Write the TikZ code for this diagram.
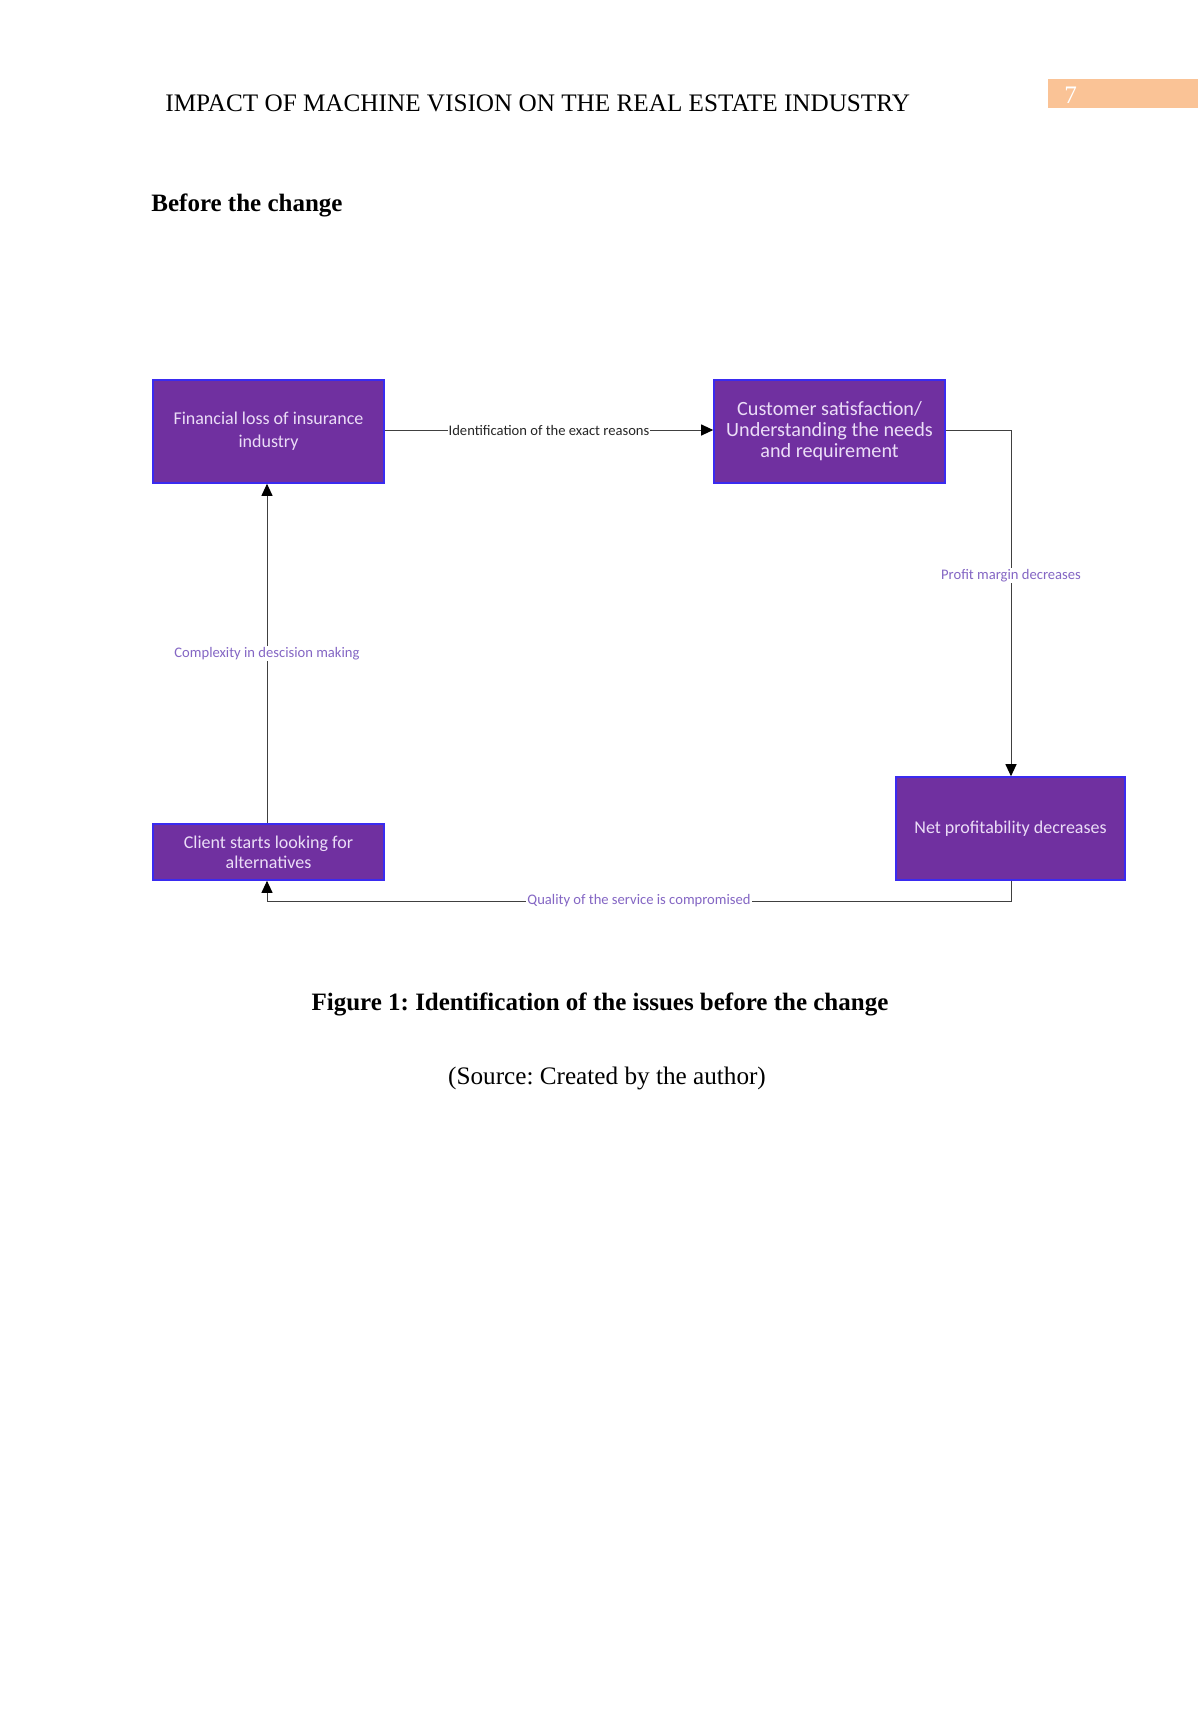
\documentclass[tikz,border=0pt]{standalone}
\usepackage{fontspec}
\setmainfont{Liberation Serif}
\newfontfamily\boxfont{Carlito}
\usetikzlibrary{arrows.meta}
\definecolor{boxfill}{HTML}{7030A0}
\definecolor{boxedge}{HTML}{3A2BF0}
\definecolor{boxtext}{HTML}{EBDDF7}
\definecolor{lblpurple}{HTML}{8466C4}
\definecolor{pagenum}{HTML}{FAC396}
\definecolor{conn}{HTML}{404040}
\tikzset{
  procbox/.style={draw=boxedge, line width=0.8pt, fill=boxfill, text=boxtext, align=center, inner sep=2pt,
    font=\boxfont\fontsize{9}{11.5}\selectfont},
  link/.style={draw=conn, line width=0.5pt, -{Triangle[length=6pt,width=5.5pt,color=black]}},
  lbl/.style={fill=white, inner sep=0.5pt, text=lblpurple, font=\boxfont\fontsize{7.3}{8}\selectfont},
  serifhead/.style={inner sep=0pt, font=\fontsize{12.6}{14}\selectfont}
}
\begin{document}
\frenchspacing
\begin{tikzpicture}[x=0.5pt,y=-0.5pt]
\useasboundingbox (0,0) rectangle (1199,1725);
\fill[white] (0,0) rectangle (1199,1725);
% header
\node[serifhead, anchor=base west] (head) at (165,111) {IMPACT OF MACHINE VISION ON THE REAL ESTATE INDUSTRY};
\fill[pagenum] (1048,79) rectangle (1198,108);
\node[serifhead, anchor=base west, text=white] (pnum) at (1064,103) {7};
\node[serifhead, anchor=base west, font=\bfseries\fontsize{12.5}{14}\selectfont] (before) at (151,211) {Before the change};
% boxes
\node[procbox, minimum width=115.5pt, minimum height=51.5pt] (fin) at (268.5,431.5) {Financial loss of insurance\\industry};
\node[procbox, minimum width=115.5pt, minimum height=51.5pt, font=\boxfont\fontsize{10.1}{10.5}\selectfont] (cust) at (829.5,431.5) {Customer satisfaction/\\Understanding the needs\\and requirement};
\node[procbox, minimum width=114.5pt, minimum height=51.5pt] (net) at (1010.5,828.5) {Net profitability decreases};
\node[procbox, minimum width=115.5pt, minimum height=28pt, font=\boxfont\fontsize{9}{10}\selectfont] (cli) at (268.5,852) {Client starts looking for\\alternatives};
% connectors
\coordinate (c1) at (1011,430);
\coordinate (c2) at (1011,901);
\coordinate (c3) at (267,901);
\draw[link] (fin.east |- 0,430) -- node[lbl, text=black!85]{Identification of the exact reasons} (cust.west |- 0,430);
\draw[link] (cust.east |- c1) -- (c1) -- node[lbl, pos=0.42]{Profit margin decreases} (net.north -| c1);
\draw[link] (net.south -| c2) -- (c2) -- node[lbl, pos=0.50]{Quality of the service is compromised} (c3) -- (cli.south -| c3);
\draw[link] (cli.north -| c3) -- node[lbl, pos=0.50]{Complexity in descision making} (fin.south -| c3);
% caption
\node[serifhead, anchor=base, font=\bfseries\fontsize{12.5}{14}\selectfont] (cap) at (600,1010) {Figure 1: Identification of the issues before the change};
\node[serifhead, anchor=base] (src) at (607,1084) {(Source: Created by the author)};
\end{tikzpicture}
\end{document}
